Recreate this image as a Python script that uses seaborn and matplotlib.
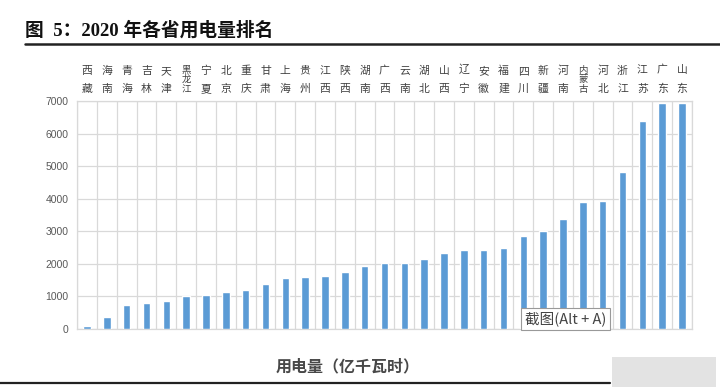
import numpy as np
import pandas as pd
import matplotlib
matplotlib.use("Agg")
import matplotlib.pyplot as plt
import seaborn as sns
from matplotlib.patches import Rectangle
from matplotlib.lines import Line2D

provinces = ["西藏", "海南", "青海", "吉林", "天津", "黑龙江", "宁夏", "北京", "重庆", "甘肃",
             "上海", "贵州", "江西", "陕西", "湖南", "广西", "云南", "湖北", "山西", "辽宁",
             "安徽", "福建", "四川", "新疆", "河南", "内蒙古", "河北", "浙江", "江苏", "广东", "山东"]
usage = [80, 363, 742, 805, 875, 1014, 1038, 1140, 1187, 1376,
         1576, 1586, 1627, 1741, 1929, 2025, 2026, 2144, 2342, 2423,
         2428, 2483, 2865, 2998, 3392, 3900, 3934, 4830, 6374, 6926, 6940]
yticks = [0, 1000, 2000, 3000, 4000, 5000, 6000, 7000]
title = "图  5：2020 年各省用电量排名"
xlabel = "用电量（亿千瓦时）"

df = pd.DataFrame({"province": provinces, "usage": usage})

sns.set_style("white")
plt.rcParams["font.family"] = ["Noto Sans CJK SC", "DejaVu Sans"]

fig = plt.figure(figsize=(7.2, 3.87), dpi=100)
ax = fig.add_axes([77/720, 1-329/387, (692-77)/720, (329-101)/387])

sns.barplot(data=df, x="province", y="usage", color="#5B9BD5", width=0.38,
            saturation=1, ax=ax, zorder=3)

ax.set_xlim(-0.5, len(provinces) - 0.5)
ax.set_ylim(0, 7000)
ax.set_yticks(yticks)
ax.set_yticklabels([str(v) for v in yticks], family=["Liberation Sans"],
                   fontsize=7.5, color="#595959")
ax.tick_params(axis="y", length=0, pad=6)

ax.xaxis.tick_top()
ax.set_xticks(range(len(provinces)))
ax.set_xticklabels(["\n".join(p) for p in provinces])
for lab, p in zip(ax.get_xticklabels(), provinces):
    lab.set_color("#404040")
    if len(p) == 3:
        lab.set_fontsize(6.8)
        lab.set_linespacing(1.1)
    else:
        lab.set_fontsize(7.8)
        lab.set_linespacing(2.0)
ax.tick_params(axis="x", which="both", length=0, pad=5)
ax.set_xticks(np.arange(-0.5, len(provinces), 1), minor=True)

ax.grid(which="minor", axis="x", color="#d9d9d9", linewidth=0.9, zorder=0)
ax.grid(which="major", axis="y", color="#d9d9d9", linewidth=0.9, zorder=0)
ax.grid(which="major", axis="x", visible=False)
for s in ax.spines.values():
    s.set_color("#d9d9d9")
    s.set_linewidth(0.9)
ax.set_xlabel("")
ax.set_ylabel("")

# title and rules
fig.text(25/720, 1-30/387, title, fontsize=13.5, fontweight="bold",
         family=["Liberation Serif", "Noto Sans CJK SC"], va="center", ha="left", color="#111111")
fig.add_artist(Line2D([25/720, 1.0], [1-43.5/387, 1-43.5/387], color="#222222", linewidth=1.8))
fig.add_artist(Line2D([0, 610/720], [1-383/387, 1-383/387], color="#222222", linewidth=1.6))

fig.text(348/720, 1-366/387, xlabel, fontsize=11.5, color="#484848",
         ha="center", va="center", fontweight="bold")

# screenshot tooltip artefact
fig.text(525/720, 1-319/387, "截图(Alt + A)", fontsize=10.5, color="#444444",
         ha="left", va="center",
         bbox=dict(boxstyle="square,pad=0.25", fc="white", ec="#999999", lw=0.8))
fig.add_artist(Rectangle((612/720, 0), 104/720, 30/387, transform=fig.transFigure,
                         facecolor="#dcdcdc", edgecolor="none", alpha=0.8))

fig.savefig("out.png", dpi=100)
